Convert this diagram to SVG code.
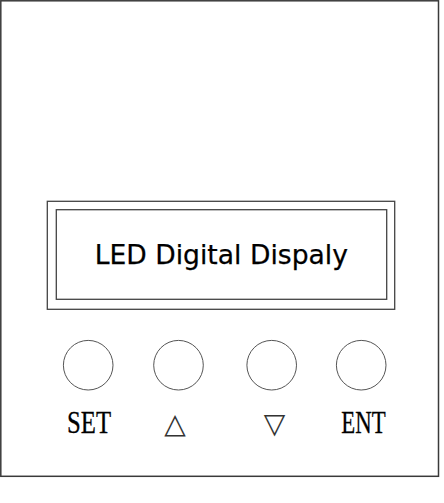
<svg xmlns="http://www.w3.org/2000/svg" width="444" height="503" viewBox="0 0 444 503">
<style>
.frame{fill:none;stroke:#3a3a3a;stroke-width:1.5}
.disp{fill:none;stroke:#444;stroke-width:1.3}
.btn{fill:#fff;stroke:#555;stroke-width:1}
.lbl{font-family:"Liberation Serif",serif;font-size:31px;fill:#000;stroke:#000;stroke-width:0.3}
.sym{font-family:"DejaVu Sans",sans-serif;font-size:28px;fill:#333}
.lcd{font-family:"DejaVu Sans",Verdana,sans-serif;font-size:26.6px;fill:#000;stroke:#000;stroke-width:0.25}
</style>
<rect width="444" height="503" fill="#fff"/>
<g id="panel"><rect class="frame" x="0.8" y="0.8" width="437.7" height="475.5"/></g>
<g id="display">
<rect class="disp" x="47.3" y="201.3" width="347.4" height="108"/>
<rect class="disp" x="56.3" y="209.7" width="330.4" height="89.6"/>
<text class="lcd" x="221.3" y="264.3" text-anchor="middle">LED Digital Dispaly</text>
</g>
<g id="btn-set"><circle class="btn" cx="88.2" cy="365.2" r="24.8"/><text class="lbl" x="67" y="432.7" textLength="44" lengthAdjust="spacingAndGlyphs">SET</text></g>
<g id="btn-up"><circle class="btn" cx="178.5" cy="365.2" r="24.8"/><text class="sym" x="175" y="432.7" text-anchor="middle">△</text></g>
<g id="btn-down"><circle class="btn" cx="271.7" cy="365.2" r="24.8"/><text class="sym" x="274.5" y="432.7" text-anchor="middle">▽</text></g>
<g id="btn-ent"><circle class="btn" cx="361.2" cy="365.2" r="24.8"/><text class="lbl" x="341.3" y="432.7" textLength="44.4" lengthAdjust="spacingAndGlyphs">ENT</text></g>
<g id="connectors"/>
</svg>
